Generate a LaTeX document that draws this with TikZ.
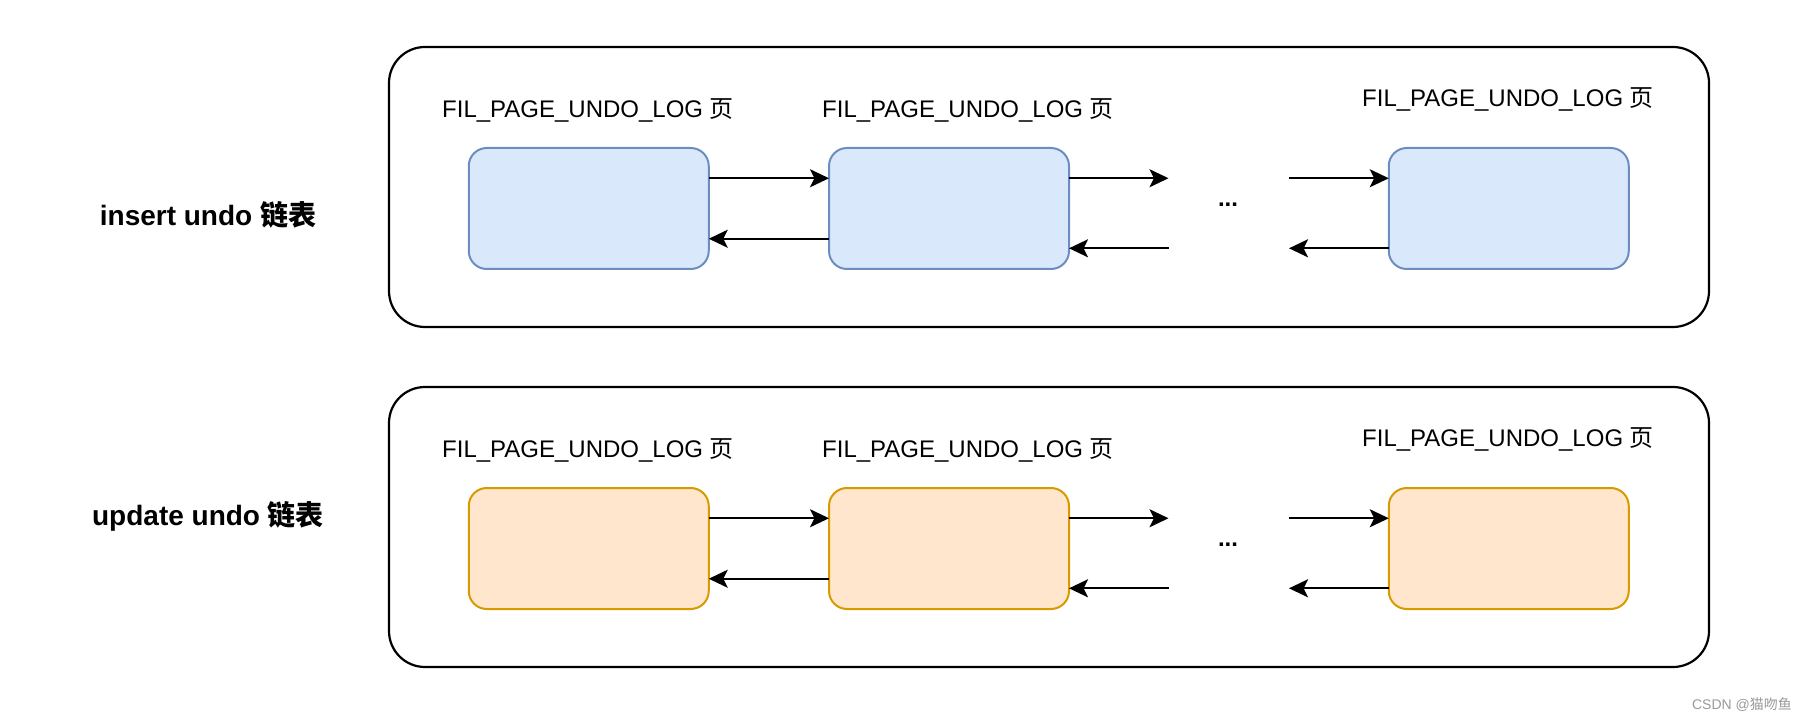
\documentclass[tikz,border=0pt]{standalone}
\usepackage{fontspec}
\setmainfont{Liberation Sans}
\newfontfamily\cjk{Noto Sans CJK SC}
\usetikzlibrary{arrows.meta,calc}
\definecolor{bluefill}{HTML}{DAE8FC}
\definecolor{bluedraw}{HTML}{6C8EBF}
\definecolor{orangefill}{HTML}{FFE6CC}
\definecolor{orangedraw}{HTML}{D79B00}
\definecolor{wmgray}{HTML}{999999}
\tikzset{
  group/.style={draw=black, line width=1.1pt, rounded corners=18pt, minimum width=660pt, minimum height=140pt, inner sep=0pt, outer sep=0pt},
  page/.style={rounded corners=9pt, line width=1pt, minimum width=120pt, minimum height=60.5pt, inner sep=0pt, outer sep=0pt},
  bluepage/.style={page, draw=bluedraw, fill=bluefill},
  orangepage/.style={page, draw=orangedraw, fill=orangefill},
  pagelabel/.style={anchor=base, inner sep=0pt, font=\fontsize{12pt}{14pt}\selectfont},
  rowlabel/.style={anchor=base, inner sep=0pt, font=\fontsize{14pt}{16pt}\selectfont\bfseries},
  dots/.style={anchor=base, inner sep=0pt, font=\fontsize{12pt}{14pt}\selectfont\bfseries},
  arr/.style={-{Stealth[length=9.5pt, width=9pt, inset=2.2pt]}, line width=1pt, black},
}
\begin{document}
\begin{tikzpicture}[x=0.5pt, y=-0.5pt]
\useasboundingbox (0,0) rectangle (1809,721);

% ---------- row 1 ----------
\node[group] (g1) at (1049,187) {};
\node[rowlabel] (l1) at (208,226) {insert undo {\cjk\bfseries 链表}};
\node[pagelabel] (t11) at (588,117.3) {FIL\_PAGE\_UNDO\_LOG {\cjk 页}};
\node[pagelabel] (t12) at (968,117.3) {FIL\_PAGE\_UNDO\_LOG {\cjk 页}};
\node[pagelabel] (t13) at (1508,106.7) {FIL\_PAGE\_UNDO\_LOG {\cjk 页}};
\node[bluepage] (a1) at (588.75,208.5) {};
\node[bluepage] (a2) at (949,208.5) {};
\node[bluepage] (a3) at (1508.75,208.5) {};
\node[dots] (d1) at (1228,206.5) {...};
\coordinate (p1) at (1168.5,178.25);
\coordinate (p2) at (1168.5,248.3);
\coordinate (p3) at (1289,178.25);
\coordinate (p4) at (1289,248.3);
\draw[arr] ($(a1.north east)!0.25!(a1.south east)$) -- ($(a2.north west)!0.25!(a2.south west)$);
\draw[arr] ($(a2.north west)!0.75!(a2.south west)$) -- ($(a1.north east)!0.75!(a1.south east)$);
\draw[arr] (a2.east |- p1) -- (p1);
\draw[arr] (p2) -- (a2.east |- p2);
\draw[arr] (p3) -- (a3.west |- p3);
\draw[arr] (a3.west |- p4) -- (p4);

% ---------- row 2 ----------
\node[group] (g2) at (1049,527) {};
\node[rowlabel] (l2) at (208,525) {update undo {\cjk\bfseries 链表}};
\node[pagelabel] (t21) at (588,457.3) {FIL\_PAGE\_UNDO\_LOG {\cjk 页}};
\node[pagelabel] (t22) at (968,457.3) {FIL\_PAGE\_UNDO\_LOG {\cjk 页}};
\node[pagelabel] (t23) at (1508,446.7) {FIL\_PAGE\_UNDO\_LOG {\cjk 页}};
\node[orangepage] (b1) at (588.75,548.5) {};
\node[orangepage] (b2) at (949,548.5) {};
\node[orangepage] (b3) at (1508.75,548.5) {};
\node[dots] (d2) at (1228,546.5) {...};
\coordinate (q1) at (1168.5,518.25);
\coordinate (q2) at (1168.5,588.3);
\coordinate (q3) at (1289,518.25);
\coordinate (q4) at (1289,588.3);
\draw[arr] ($(b1.north east)!0.25!(b1.south east)$) -- ($(b2.north west)!0.25!(b2.south west)$);
\draw[arr] ($(b2.north west)!0.75!(b2.south west)$) -- ($(b1.north east)!0.75!(b1.south east)$);
\draw[arr] (b2.east |- q1) -- (q1);
\draw[arr] (q2) -- (b2.east |- q2);
\draw[arr] (q3) -- (b3.west |- q3);
\draw[arr] (b3.west |- q4) -- (q4);

% watermark
\node[anchor=base, inner sep=0pt, text=wmgray, font=\fontsize{7pt}{8pt}\selectfont] (wm) at (1742,709) {CSDN @{\cjk 猫吻鱼}};
\end{tikzpicture}
\end{document}
